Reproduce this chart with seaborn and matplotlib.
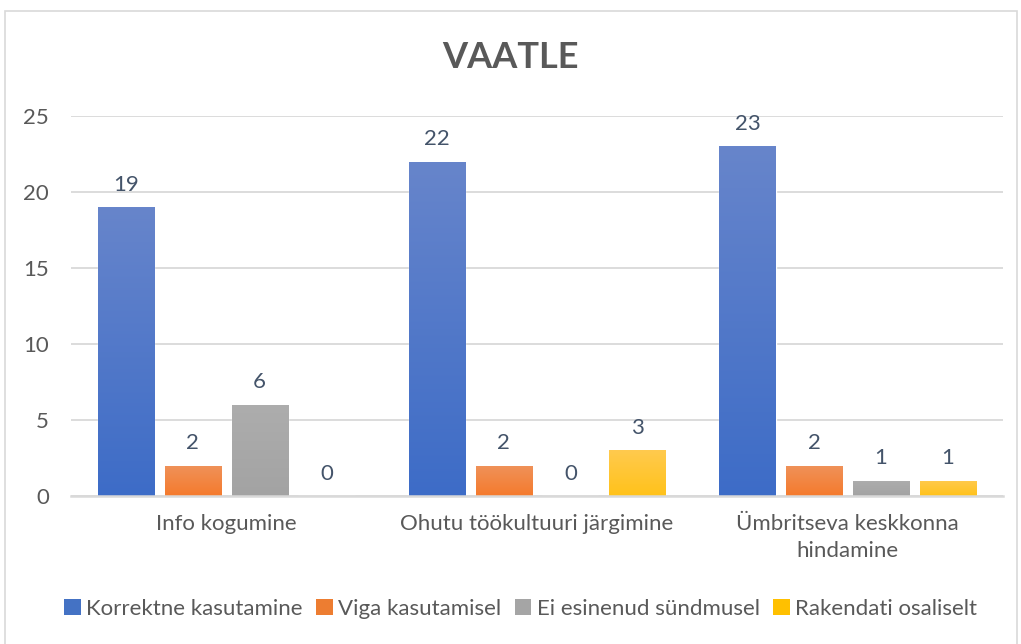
import numpy as np
import pandas as pd
import seaborn as sns
import matplotlib.pyplot as plt
from matplotlib.patches import Patch, Rectangle
from matplotlib.colors import LinearSegmentedColormap

# andmed
categories = ["Info kogumine", "Ohutu töökultuuri järgimine", "Ümbritseva keskkonna\nhindamine"]
series = ["Korrektne kasutamine", "Viga kasutamisel", "Ei esinenud sündmusel", "Rakendati osaliselt"]
korrektne = [19, 22, 23]
viga = [2, 2, 2]
ei_esinenud = [6, 0, 1]
osaliselt = [0, 3, 1]

colors = ["#4472C4", "#ED7D31", "#A5A5A5", "#FFC000"]
# gradient: bottom -> top
grads = [("#3D6CC7", "#6785CB"), ("#F57A2C", "#EF925A"),
         ("#A3A3A3", "#ADADAD"), ("#FFC21A", "#FFCA4E")]

df = pd.DataFrame({
    "kategooria": np.repeat(categories, 4),
    "seeria": series * 3,
    "arv": [v for trio in zip(korrektne, viga, ei_esinenud, osaliselt) for v in trio],
})

sns.set_theme(style="white")
plt.rcParams["font.family"] = ["Lato", "DejaVu Sans"]

fig = plt.figure(figsize=(10.21, 6.44), dpi=100)
ax = fig.add_axes([71 / 1021, 1 - 496 / 644, 932 / 1021, 380 / 644])

sns.barplot(data=df, x="kategooria", y="arv", hue="seeria", hue_order=series,
            order=categories, palette=colors, width=0.86, gap=0.16,
            saturation=1, ax=ax, legend=False, errorbar=None)

# Excel-laadne gradient tulpadele
for cont, (c0, c1) in zip(ax.containers, grads):
    cmap = LinearSegmentedColormap.from_list("g", [c0, c1])
    for p in cont:
        h = p.get_height()
        if h <= 0:
            continue
        im = ax.imshow(np.linspace(0, 1, 256).reshape(-1, 1), cmap=cmap, origin="lower",
                       extent=(p.get_x(), p.get_x() + p.get_width(), 0, h),
                       aspect="auto", zorder=p.get_zorder() + 0.1)
        im.set_clip_path(p)
    ax.bar_label(cont, fmt="%g", padding=9, fontsize=16, color="#44546A")

ax.set_xlim(-0.5, 2.5)
ax.set_ylim(0, 25)
ax.set_yticks(range(0, 26, 5))
ax.yaxis.grid(True, color="#D9D9D9", linewidth=1.3)
ax.set_axisbelow(True)
for s in ["top", "right", "left"]:
    ax.spines[s].set_visible(False)
ax.spines["bottom"].set_color("#D9D9D9")
ax.spines["bottom"].set_linewidth(1.8)
ax.tick_params(axis="both", length=0, labelsize=16, labelcolor="#595959")
ax.tick_params(axis="x", pad=13)
ax.tick_params(axis="y", pad=16)
for t in ax.get_xticklabels():
    t.set_linespacing(1.45)
    t.set_multialignment("center")
ax.set_xlabel("")
ax.set_ylabel("")

fig.text(0.5, 1 - 57 / 644, "VAATLE", ha="center", va="center",
         fontsize=26, fontweight="bold", color="#595959")

handles = [Patch(facecolor=c, edgecolor="none", label=s) for c, s in zip(colors, series)]
fig.legend(handles=handles, loc="center", bbox_to_anchor=(0.51, 1 - 609 / 644), ncol=4,
           frameon=False, fontsize=16, labelcolor="#595959", handlelength=0.75,
           handleheight=0.75, handletextpad=0.25, columnspacing=0.6)

fig.patches.append(Rectangle((5 / 1021, -0.02), 1012 / 1021, 1 - 11 / 644 + 0.02,
                             transform=fig.transFigure, fill=False,
                             edgecolor="#D9D9D9", linewidth=1.2))

plt.savefig("out.png", dpi=100)
